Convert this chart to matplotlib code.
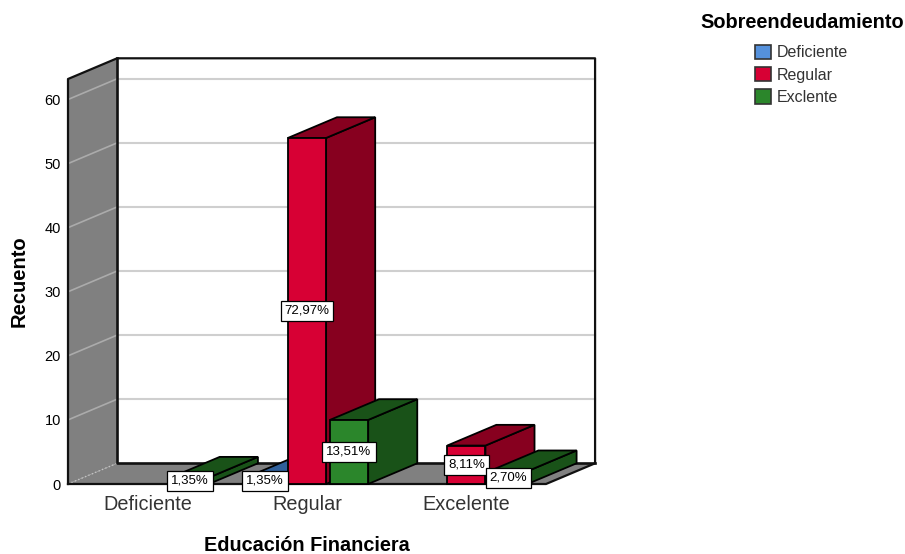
import numpy as np
import matplotlib
matplotlib.use("Agg")
import matplotlib.pyplot as plt
from matplotlib.patches import Polygon, Patch

plt.rcParams['font.family'] = ['Liberation Sans', 'DejaVu Sans']

## Data
categories = ["Deficiente", "Regular", "Excelente"]
series_names = ["Deficiente", "Regular", "Exclente"]
deficiente_counts = [0, 1, 0]
regular_counts = [0, 54, 6]
exclente_counts = [1, 10, 2]
deficiente_labels = ["", "1,35%", ""]
regular_labels = ["", "72,97%", "8,11%"]
exclente_labels = ["1,35%", "13,51%", "2,70%"]
y_ticks = [0, 10, 20, 30, 40, 50, 60]

## Colours for (front, side, top)
colors = [("#5591DC", "#2F5F9A", "#2F5F9A"),
          ("#D70034", "#87001F", "#87001F"),
          ("#2B862B", "#195218", "#195218")]

## Geometry of the fake 3D box, in data units of the front plane
y_top = 63.2
dx = 0.308    # depth along x
dy = 3.23     # depth along y
bar_w = 0.24
bar_step = 0.264

fig = plt.figure(figsize=(9.05, 5.54), dpi=100)
ax = fig.add_axes([68/905, 70/554, 478/905, 405/554])
ax.set_xlim(-0.5, 2.5)
ax.set_ylim(0, y_top)
for s in ax.spines.values():
    s.set_visible(False)


def poly(pts, face, edge="black", lw=1.3, z=1):
    ax.add_patch(Polygon(pts, closed=True, facecolor=face, edgecolor=edge,
                         linewidth=lw, zorder=z, clip_on=False, joinstyle="miter"))


def edge_line(xs, ys, z=3, lw=1.6):
    ax.plot(xs, ys, color="#111111", lw=lw, zorder=z, clip_on=False, solid_capstyle="projecting")


x0, x1 = -0.5, 2.5

## back wall, left wall and floor (outlines added separately)
poly([(x0+dx, dy), (x1+dx, dy), (x1+dx, y_top+dy), (x0+dx, y_top+dy)], "white", edge="none", z=1)
poly([(x0, 0), (x0+dx, dy), (x0+dx, y_top+dy), (x0, y_top)], "#808080", edge="none", z=2)
poly([(x0, 0), (x1, 0), (x1+dx, dy), (x0+dx, dy)], "#808080", edge="none", z=2)

## gridlines on the walls
for t in y_ticks[1:]:
    ax.plot([x0+dx, x1+dx], [t+dy, t+dy], color="#CFCFCF", lw=1.5, zorder=1.5, clip_on=False)
    ax.plot([x0, x0+dx], [t, t+dy], color="#ABABAB", lw=1.2, zorder=3, clip_on=False)
ax.plot([x0, x0+dx], [0, dy], color="#C4C4C4", lw=1, ls=":", zorder=3, clip_on=False)

## box outline
edge_line([x0, x0, x0+dx, x1+dx, x1+dx, x1, x0], [0, y_top, y_top+dy, y_top+dy, dy, 0, 0])
edge_line([x0+dx, x0+dx, x1+dx], [y_top+dy, dy, dy], lw=1.9)

## bars, left to right so nearer ones overlap correctly
series = [deficiente_counts, regular_counts, exclente_counts]
series_labels = [deficiente_labels, regular_labels, exclente_labels]
z = 4
for c in range(len(categories)):
    for s in range(3):
        v = series[s][c]
        if v == 0:
            continue
        left = c + (s-1)*bar_step - bar_w/2
        right = left + bar_w
        front, side, top = colors[s]
        poly([(right, 0), (right+dx, dy), (right+dx, v+dy), (right, v)], side, z=z)
        poly([(left, v), (right, v), (right+dx, v+dy), (left+dx, v+dy)], top, z=z)
        poly([(left, 0), (right, 0), (right, v), (left, v)], front, z=z)
        z += 1

## percentage labels stay on top of every bar
for c in range(len(categories)):
    for s in range(3):
        v = series[s][c]
        if v == 0:
            continue
        ax.text(c + (s-1)*bar_step, v/2, series_labels[s][c], ha="center", va="center",
                fontsize=9.5, color="black", zorder=30, clip_on=False,
                bbox=dict(boxstyle="square,pad=0.3", facecolor="white", edgecolor="black", linewidth=0.9))

## axes
ax.set_xticks(range(len(categories)))
ax.set_xticklabels(categories, fontsize=14.3, color="#333333")
ax.set_yticks(y_ticks)
ax.set_yticklabels([str(t) for t in y_ticks], fontsize=10.5, color="black")
ax.tick_params(axis="x", length=0, pad=8)
ax.tick_params(axis="y", length=0, pad=5)
ax.set_xlabel("Educación Financiera", fontsize=14.3, fontweight="bold")
ax.xaxis.set_label_coords(239/478, -0.128)
ax.set_ylabel("Recuento", fontsize=14.5, fontweight="bold")
ax.yaxis.set_label_coords(-39/478, 0.5)

## legend, the title is placed on its own so the gap to the entries can be set
fig.text(802/905, 1-23/554, "Sobreendeudamiento", ha="center", va="center",
         fontsize=14.35, fontweight="bold", color="black")
handles = [Patch(facecolor=colors[i][0], edgecolor="#333333", linewidth=1.2) for i in range(3)]
leg = fig.legend(handles, series_names,
                 loc="upper center", bbox_to_anchor=(801.5/905, 1-40/554), frameon=False,
                 fontsize=11.5, handlelength=1.0, handleheight=1.0, handletextpad=0.3,
                 labelspacing=0.42, borderpad=0.3, borderaxespad=0)
for t in leg.get_texts():
    t.set_color("#333333")

fig.savefig("out.png", dpi=100)
